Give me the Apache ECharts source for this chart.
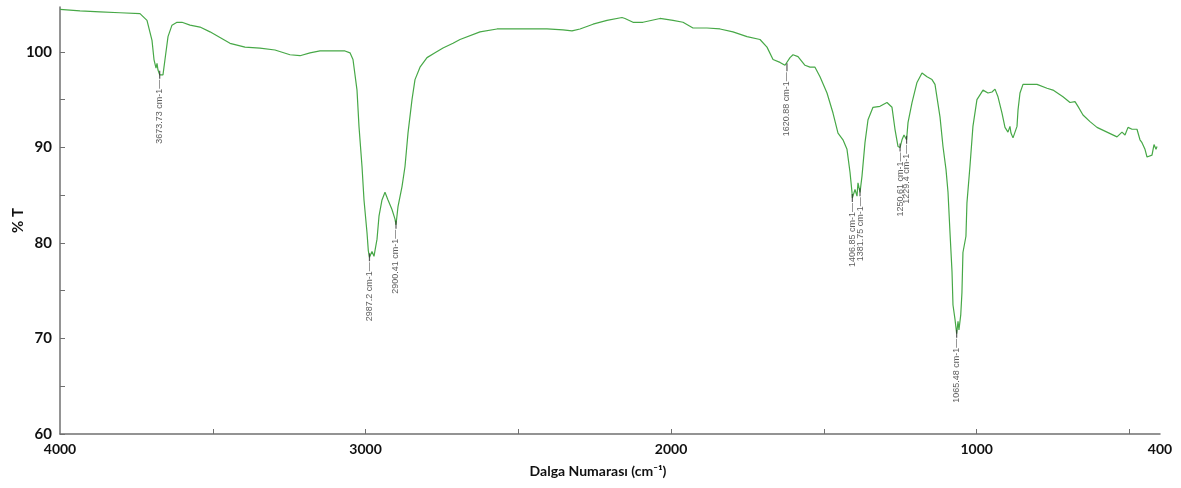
<!DOCTYPE html>
<html>
<head>
<meta charset="utf-8">
<script src="https://cdn.jsdelivr.net/npm/echarts@6/dist/echarts.min.js"></script>
<style>
html,body{margin:0;padding:0;background:#fff;}
#chart{width:1181px;height:488px;}
</style>
</head>
<body>
<div id="chart"></div>
<script>
// Wavenumber (cm-1) and %T
const wavenumbers = [4000,3934.5,3869,3803.6,3738.2,3715.3,3698.9,3692.4,3685.8,3682.5,3679.3,3673.73,3663,3656.4,3646.5,3633.5,3617.1,3600.7,3574.5,3541.8,3509.1,3476.4,3443.6,3394.5,3345.5,3296.4,3247.3,3214.5,3181.8,3149.1,3100,3067.3,3050.9,3041.1,3028,3021.5,3011.6,3005.1,2995.3,2991,2987.2,2979,2972.4,2962.5,2956,2946.2,2936.4,2926.5,2913.5,2903.6,2900.41,2893.8,2880.7,2870.9,2861.1,2848,2838.2,2821.8,2798.9,2772.7,2746.5,2713.8,2690.9,2625.5,2569.8,2517.5,2461.8,2406.2,2353.8,2324.4,2298.2,2255.6,2209.8,2160.7,2150.9,2124.7,2092,2036.4,1993.8,1961.1,1928.4,1882.5,1840,1797.5,1751.6,1709.1,1686.2,1666.5,1643.6,1627.3,1620.88,1610.9,1601.1,1584.7,1561.8,1545.5,1529.1,1512.7,1489.8,1470.2,1453.8,1437.5,1424.4,1414.5,1408,1406.85,1398.2,1391.6,1388.4,1381.75,1375.3,1365.5,1355.6,1339.3,1316.4,1293.5,1277.1,1267.3,1257.5,1250.61,1244.4,1237.8,1229.4,1224.7,1211.6,1195.3,1178.9,1162.5,1146.2,1136.4,1120,1110.2,1100.4,1093.8,1087.3,1080.7,1077.5,1070.9,1065.48,1061,1058,1052,1048.2,1044.9,1035.1,1031.8,1022,1012.2,999.1,989.1,979.3,963,949.8,940,930.2,917.1,907.3,897.5,891,887.7,881.1,868,864.7,858.2,848.4,832,802.5,769.8,750.2,717.5,694.5,678.2,668.4,652,629.1,606.2,573.5,540.7,524.4,514.5,504.7,491.6,475.3,465.5,458.9,449.1,442.5,439.3,426.2,419.6,413.1,409.8,406.5];
const transmittance = [104.45,104.3,104.2,104.1,104.0,103.3,101.2,99.2,98.3,98.8,98.1,97.6,97.6,99.2,101.6,102.8,103.1,103.1,102.8,102.6,102.1,101.5,100.9,100.5,100.4,100.2,99.7,99.6,99.9,100.1,100.1,100.1,99.9,99.2,96.0,92.2,88.0,84.5,81.1,79.2,78.5,79.1,78.6,80.4,82.8,84.5,85.3,84.5,83.5,82.5,81.9,83.8,85.9,88.0,91.5,95.0,97.1,98.4,99.4,99.9,100.4,100.9,101.3,102.1,102.4,102.4,102.4,102.4,102.3,102.2,102.4,102.9,103.3,103.6,103.5,103.1,103.1,103.5,103.3,103.1,102.5,102.5,102.4,102.1,101.6,101.3,100.5,99.2,98.9,98.6,98.4,99.4,99.7,99.5,98.6,98.4,98.4,97.4,95.7,93.6,91.5,90.8,89.8,87.4,85.3,84.7,85.6,84.9,86.3,85.3,87.0,90.5,92.9,94.2,94.3,94.7,94.2,91.9,90.1,90.0,90.8,91.3,90.8,92.6,94.7,96.8,97.8,97.4,97.1,96.6,93.2,90.1,87.7,85.3,81.1,77.0,73.5,72.0,70.5,71.8,70.9,72.5,74.8,79.0,80.7,84.2,88.0,92.2,95.0,95.5,96.0,95.7,95.8,96.1,95.3,93.6,92.1,91.6,92.2,91.5,91.0,92.2,93.9,95.7,96.6,96.6,96.6,96.2,96.0,95.3,94.7,94.8,94.3,93.4,92.7,92.1,91.6,91.1,91.6,91.3,92.1,91.9,91.9,90.8,90.5,89.8,89.0,89.0,89.2,90.3,89.8,90.1];

// Labelled peaks
const peakWn = [3673.73, 2987.2, 2900.41, 1620.88, 1406.85, 1381.75, 1250.61, 1229.4, 1065.48];
const peakT  = [97.6, 78.5, 81.9, 98.4, 84.7, 85.3, 90.0, 90.8, 70.5];
const peakLabels = ['3673.73 cm-1', '2987.2 cm-1', '2900.41 cm-1', '1620.88 cm-1', '1406.85 cm-1', '1381.75 cm-1', '1250.61 cm-1', '1229.4 cm-1', '1065.48 cm-1'];

// Axis ticks and labels
const xLabelValues = [4000, 3000, 2000, 1000, 400];
const xTickValues = [3500, 3000, 2500, 2000, 1500, 1000, 500];
const yLabelValues = [60, 70, 80, 90, 100];
const yTickValues = [60, 65, 70, 75, 80, 85, 90, 95, 100];

const lineData = wavenumbers.map((w, i) => [w, transmittance[i]]);
const peakData = peakWn.map((w, i) => ({ value: [w, peakT[i]], name: peakLabels[i] }));

const chart = echarts.init(document.getElementById('chart'), null, { renderer: 'canvas' });
const axisFont = 'Lato, "Open Sans", "DejaVu Sans", sans-serif';
chart.setOption({
  animation: false,
  backgroundColor: '#ffffff',
  grid: { left: 60, right: 21, top: 7, bottom: 54, containLabel: false, outerBoundsMode: 'none' },
  xAxis: {
    type: 'value',
    inverse: true,
    min: 400,
    max: 4000,
    name: 'Dalga Numarası (cm⁻¹)',
    nameLocation: 'middle',
    nameGap: 30,
    nameTextStyle: { fontFamily: axisFont, fontWeight: 'bold', fontSize: 14, color: '#111', padding: [0, 24, 0, 0] },
    axisLine: { show: true, lineStyle: { color: '#707070', width: 1.5 } },
    axisTick: { show: true, inside: true, length: 5, customValues: xTickValues, lineStyle: { color: '#707070' } },
    axisLabel: { customValues: xLabelValues, formatter: v => String(v), fontFamily: axisFont, fontWeight: 'bold', fontSize: 14, color: '#111', margin: 8 },
    splitLine: { show: false }
  },
  yAxis: {
    type: 'value',
    min: 60,
    max: 104.7,
    name: '% T',
    nameLocation: 'middle',
    nameGap: 34,
    nameMoveOverlap: false,
    nameRotate: 90,
    nameTextStyle: { fontFamily: axisFont, fontWeight: 'bold', fontSize: 15, color: '#111' },
    axisLine: { show: true, lineStyle: { color: '#707070', width: 1.5 } },
    axisTick: { show: true, inside: true, length: 5, customValues: yTickValues, lineStyle: { color: '#707070' } },
    axisLabel: { customValues: yLabelValues, formatter: v => String(v), fontFamily: axisFont, fontWeight: 'bold', fontSize: 15, color: '#111', margin: 8 },
    splitLine: { show: false }
  },
  series: [
    {
      type: 'line',
      data: lineData,
      showSymbol: false,
      smooth: false,
      lineStyle: { color: '#47a847', width: 1.2 },
      itemStyle: { color: '#47a847' },
      z: 2
    },
    {
      type: 'scatter',
      data: peakData,
      symbol: 'rect',
      symbolSize: [1.2, 8],
      itemStyle: { color: '#333' },
      z: 3,
      label: {
        show: true,
        formatter: p => p.name + '—',
        position: 'bottom',
        distance: 1,
        rotate: 90,
        align: 'right',
        verticalAlign: 'middle',
        fontFamily: '"Liberation Sans", Arial, sans-serif',
        fontSize: 9,
        color: '#333'
      }
    }
  ]
});
</script>
</body>
</html>
